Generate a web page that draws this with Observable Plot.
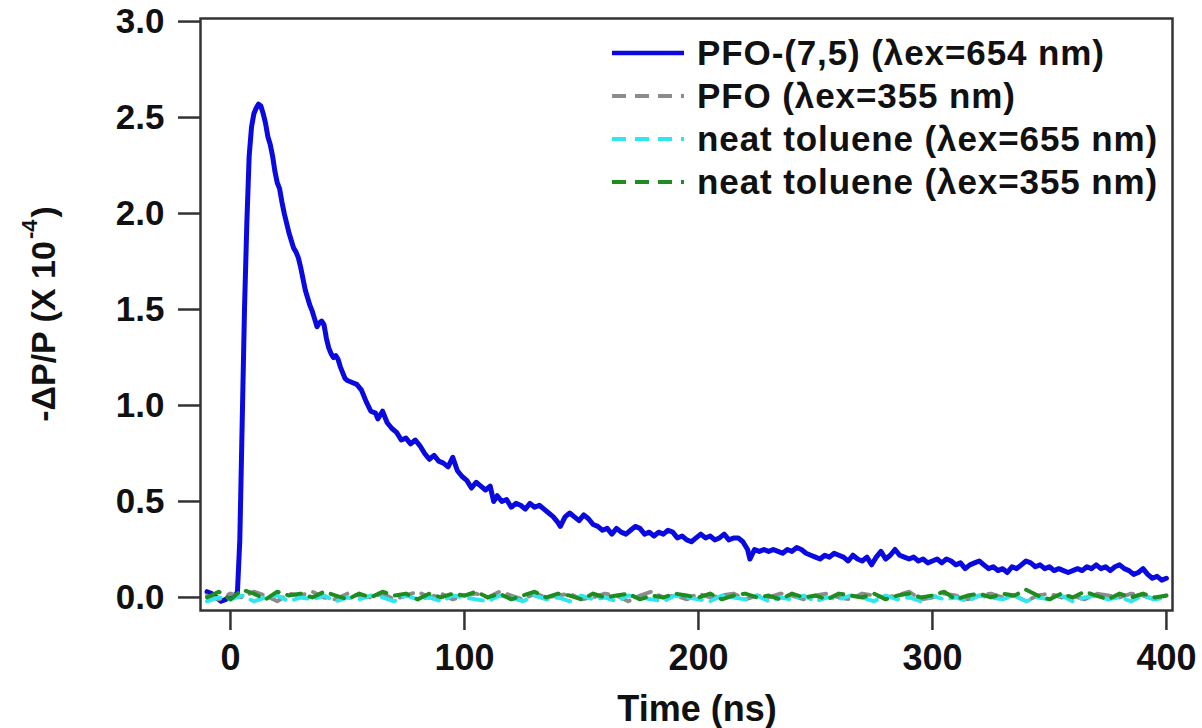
<!DOCTYPE html>
<html>
<head>
<meta charset="utf-8">
<script src="https://cdn.jsdelivr.net/npm/d3@7"></script>
<script src="https://cdn.jsdelivr.net/npm/@observablehq/plot@0.6"></script>
<style>
  html, body { margin: 0; padding: 0; background: #fff; }
  svg { display: block; }
</style>
</head>
<body>
<div id="chart"></div>
<script>
// ---------- data ----------
const xTicks = [0, 100, 200, 300, 400];
const yTicks = [0, 0.5, 1.0, 1.5, 2.0, 2.5, 3.0];

const seriesNames = [
  "PFO-(7,5) (\u03bbex=654 nm)",
  "PFO (\u03bbex=355 nm)",
  "neat toluene (\u03bbex=655 nm)",
  "neat toluene (\u03bbex=355 nm)"
];
const seriesColors = ["#0a0ae0", "#8c8c8c", "#2ee6ee", "#1e8c1e"];

const blueTime = [-10,-8,-6,-4,-2,0,2,3,4,5,6,7,8,9,10,11,12,13,14,15,16,17,18,19,20,21,22,23,24,25,26,27,28,29,30,31,32,33,34,35,36,37,38,39,40,41,42,43,44,45,46,47,48,49,50,52,54,56,58,60,62,63,65,67,69,71,73,75,77,79,81,83,85,87,89,91,93,95,97,99,101,103,105,107,109,111,112.5,114,116,118,120,122,124,126,128,130,132,134,136,138,140,141,143,145,147,149,151,153,155,157,159,161,163,165,167,169,171,173,175,177,179,181,183,185,187,189,191,193,195,197,199,201,203,205,207,209,211,213,215,217,219,221,222,224,226,228,230,232,234,236,238,240,242,244,246,248,250,252,254,256,258,260,262,264,266,268,270,272,274,276,278,280,282,284,286,288,290,292,294,296,298,300,302,304,306,308,310,312,314,316,318,320,322,324,326,328,330,332,334,336,338,340,342,344,346,348,350,352,354,356,358,360,362,364,366,368,370,372,374,376,378,380,382,384,386,388,390,392,394,396,398,400];
const blueValue = [0.03,0.02,0.00,-0.02,-0.01,0.00,0.01,0.03,0.30,0.90,1.50,1.95,2.30,2.45,2.52,2.55,2.57,2.56,2.52,2.47,2.40,2.36,2.30,2.22,2.16,2.13,2.06,2.00,1.95,1.90,1.86,1.82,1.80,1.77,1.72,1.66,1.60,1.56,1.52,1.49,1.45,1.41,1.43,1.44,1.42,1.35,1.30,1.27,1.25,1.26,1.24,1.20,1.17,1.14,1.13,1.12,1.11,1.08,1.02,0.97,0.96,0.93,0.97,0.91,0.88,0.86,0.82,0.83,0.80,0.82,0.79,0.75,0.72,0.74,0.71,0.70,0.68,0.73,0.66,0.63,0.61,0.57,0.60,0.58,0.56,0.58,0.50,0.53,0.50,0.51,0.47,0.49,0.48,0.46,0.49,0.47,0.48,0.46,0.44,0.42,0.39,0.37,0.42,0.44,0.42,0.40,0.43,0.41,0.38,0.37,0.35,0.36,0.33,0.36,0.34,0.33,0.35,0.37,0.36,0.33,0.34,0.32,0.34,0.33,0.35,0.34,0.31,0.32,0.30,0.29,0.31,0.33,0.31,0.32,0.30,0.31,0.33,0.30,0.31,0.31,0.29,0.25,0.20,0.25,0.24,0.25,0.24,0.25,0.24,0.23,0.25,0.24,0.26,0.25,0.23,0.22,0.21,0.20,0.22,0.21,0.23,0.22,0.21,0.19,0.22,0.20,0.19,0.21,0.17,0.21,0.24,0.20,0.22,0.25,0.22,0.21,0.20,0.21,0.19,0.20,0.18,0.19,0.20,0.18,0.20,0.19,0.17,0.18,0.15,0.17,0.18,0.19,0.17,0.15,0.16,0.14,0.15,0.13,0.16,0.15,0.17,0.19,0.18,0.16,0.17,0.15,0.16,0.14,0.15,0.14,0.13,0.14,0.15,0.14,0.16,0.15,0.17,0.15,0.16,0.14,0.16,0.17,0.15,0.14,0.12,0.13,0.15,0.12,0.10,0.11,0.09,0.10];

const baseTime = [-10,-5,0,5,10,15,20,25,30,35,
  40,45,50,55,60,65,70,75,80,85,
  90,95,100,105,110,115,120,125,130,135,
  140,145,150,155,160,165,170,175,180,185,
  190,195,200,205,210,215,220,225,230,235,
  240,245,250,255,260,265,270,275,280,285,
  290,295,300,305,310,315,320,325,330,335,
  340,345,350,355,360,365,370,375,380,385,
  390,395,400];
const grayValue = [0.01,-0.01,0.02,0.00,0.03,0.01,-0.02,0.02,0.01,0.03,
  0.00,-0.01,0.02,0.01,0.00,0.02,-0.01,0.01,0.03,0.00,
  0.02,-0.01,0.01,0.02,0.00,0.03,0.01,-0.01,0.02,0.00,
  0.01,0.02,-0.01,0.00,0.02,0.01,-0.02,0.01,0.03,0.00,
  0.01,-0.01,0.02,0.00,0.01,0.02,-0.01,0.01,0.00,0.02,
  0.01,-0.01,0.01,0.02,0.00,-0.01,0.02,0.01,0.00,0.01,
  0.03,-0.01,0.00,0.02,0.01,-0.01,0.01,0.02,0.00,0.01,
  -0.02,0.01,0.02,0.00,0.01,-0.01,0.02,0.01,0.00,0.02,
  0.01,-0.01,0.01];
const cyanValue = [-0.02,0.00,-0.01,0.01,-0.02,0.00,0.01,-0.02,0.00,-0.01,
  0.01,-0.02,0.00,-0.01,0.01,0.00,-0.02,0.01,-0.01,0.00,
  -0.02,0.01,0.00,-0.01,-0.02,0.01,0.00,-0.02,0.01,-0.01,
  0.00,-0.02,0.01,-0.01,0.00,-0.02,0.01,0.00,-0.01,-0.02,
  0.01,0.00,-0.01,-0.02,0.01,0.00,-0.01,0.01,-0.02,0.00,
  -0.01,0.01,-0.02,0.00,-0.01,0.01,0.00,-0.02,0.01,-0.01,
  0.00,-0.02,0.01,-0.01,0.00,-0.02,0.01,0.00,-0.01,0.01,
  -0.02,0.00,-0.01,0.01,-0.02,0.00,0.01,-0.01,0.00,-0.02,
  0.01,-0.01,0.00];
const greenValue = [0.00,0.03,-0.01,0.04,0.02,-0.01,0.03,0.01,0.02,0.00,
  0.03,0.01,-0.01,0.02,0.00,0.03,0.01,0.02,-0.01,0.02,
  0.00,0.02,0.01,0.03,0.00,0.02,-0.01,0.01,0.03,0.00,
  0.02,0.01,-0.01,0.02,0.00,0.01,0.02,-0.01,0.01,0.00,
  0.02,0.01,0.00,0.02,-0.01,0.01,0.02,0.00,0.01,-0.01,
  0.02,0.00,0.01,-0.01,0.02,0.01,0.00,0.02,-0.01,0.01,
  0.02,0.00,0.01,0.03,-0.01,0.01,0.02,0.00,0.02,0.01,
  0.04,0.01,-0.01,0.02,0.00,0.03,0.01,-0.01,0.02,0.00,
  0.02,0.00,0.01];

// ---------- build tables ----------
const blueData = blueTime.map((t, i) => ({t, v: blueValue[i]}));
const grayData = baseTime.map((t, i) => ({t, v: grayValue[i]}));
const cyanData = baseTime.map((t, i) => ({t, v: cyanValue[i]}));
const greenData = baseTime.map((t, i) => ({t, v: greenValue[i]}));

const FONT = "'Liberation Sans', Arial, Helvetica, sans-serif";
const W = 1202, H = 728;
const mL = 200, mR = 30, mT = 18, mB = 118;

const chart = Plot.plot({
  width: W,
  height: H,
  marginLeft: mL,
  marginRight: mR,
  marginTop: mT,
  marginBottom: mB,
  style: {fontFamily: FONT, fontWeight: "bold", background: "#fff", color: "#111"},
  x: {domain: [-12.8, 402.6], label: null},
  y: {domain: [-0.068, 3.016], label: null},
  marks: [
    Plot.line(blueData, {x: "t", y: "v", stroke: seriesColors[0], strokeWidth: 5, strokeLinejoin: "round"}),
    Plot.line(grayData, {x: "t", y: "v", stroke: seriesColors[1], strokeWidth: 4, strokeDasharray: "14,9"}),
    Plot.line(cyanData, {x: "t", y: "v", stroke: seriesColors[2], strokeWidth: 4, strokeDasharray: "14,9"}),
    Plot.line(greenData, {x: "t", y: "v", stroke: seriesColors[3], strokeWidth: 4, strokeDasharray: "14,9"}),
    Plot.frame({stroke: "#333", strokeWidth: 2.5}),
    Plot.axisY({ticks: yTicks, tickFormat: d3.format(".1f"), tickSize: 22, tickPadding: 14,
      stroke: "#333", strokeWidth: 2.5, fontSize: 35, fontWeight: "bold", fill: "#111", label: null}),
    Plot.axisX({ticks: xTicks, tickFormat: d3.format("d"), tickSize: 20, tickPadding: 14,
      stroke: "#333", strokeWidth: 2.5, fontSize: 36, fontWeight: "bold", fill: "#111", label: null})
  ]
});

document.getElementById("chart").appendChild(chart);

// ---------- titles and legend (text as SVG text) ----------
const svg = d3.select(chart);

svg.append("text")
  .attr("x", 697).attr("y", 721)
  .attr("text-anchor", "middle")
  .attr("font-family", FONT).attr("font-weight", "bold").attr("font-size", 36)
  .attr("fill", "#111")
  .text("Time (ns)");

const yt = svg.append("text")
  .attr("transform", "translate(55,314) rotate(-90)")
  .attr("text-anchor", "middle")
  .attr("font-family", FONT).attr("font-weight", "bold").attr("font-size", 34)
  .attr("fill", "#111");
yt.append("tspan").text("-\u0394P/P (X 10");
yt.append("tspan").attr("dy", -18).attr("dx", 2).attr("font-size", 22).text("-4");
yt.append("tspan").attr("dy", 18).attr("dx", 2).text(")");

const legendRows = [53, 96, 139, 182];
const dashes = [null, "14,9", "14,9", "14,9"];
const lg = svg.append("g");
seriesNames.forEach((name, i) => {
  const y = legendRows[i];
  const ln = lg.append("line")
    .attr("x1", 612).attr("x2", 684).attr("y1", y).attr("y2", y)
    .attr("stroke", seriesColors[i]).attr("stroke-width", i === 0 ? 4.5 : 4);
  if (dashes[i]) ln.attr("stroke-dasharray", dashes[i]);
  lg.append("text")
    .attr("x", 697).attr("y", y + 12)
    .attr("text-anchor", "start")
    .attr("font-family", FONT).attr("font-weight", "bold").attr("font-size", 35)
    .attr("letter-spacing", 0.9)
    .attr("fill", "#111")
    .text(name);
});
</script>
</body>
</html>
